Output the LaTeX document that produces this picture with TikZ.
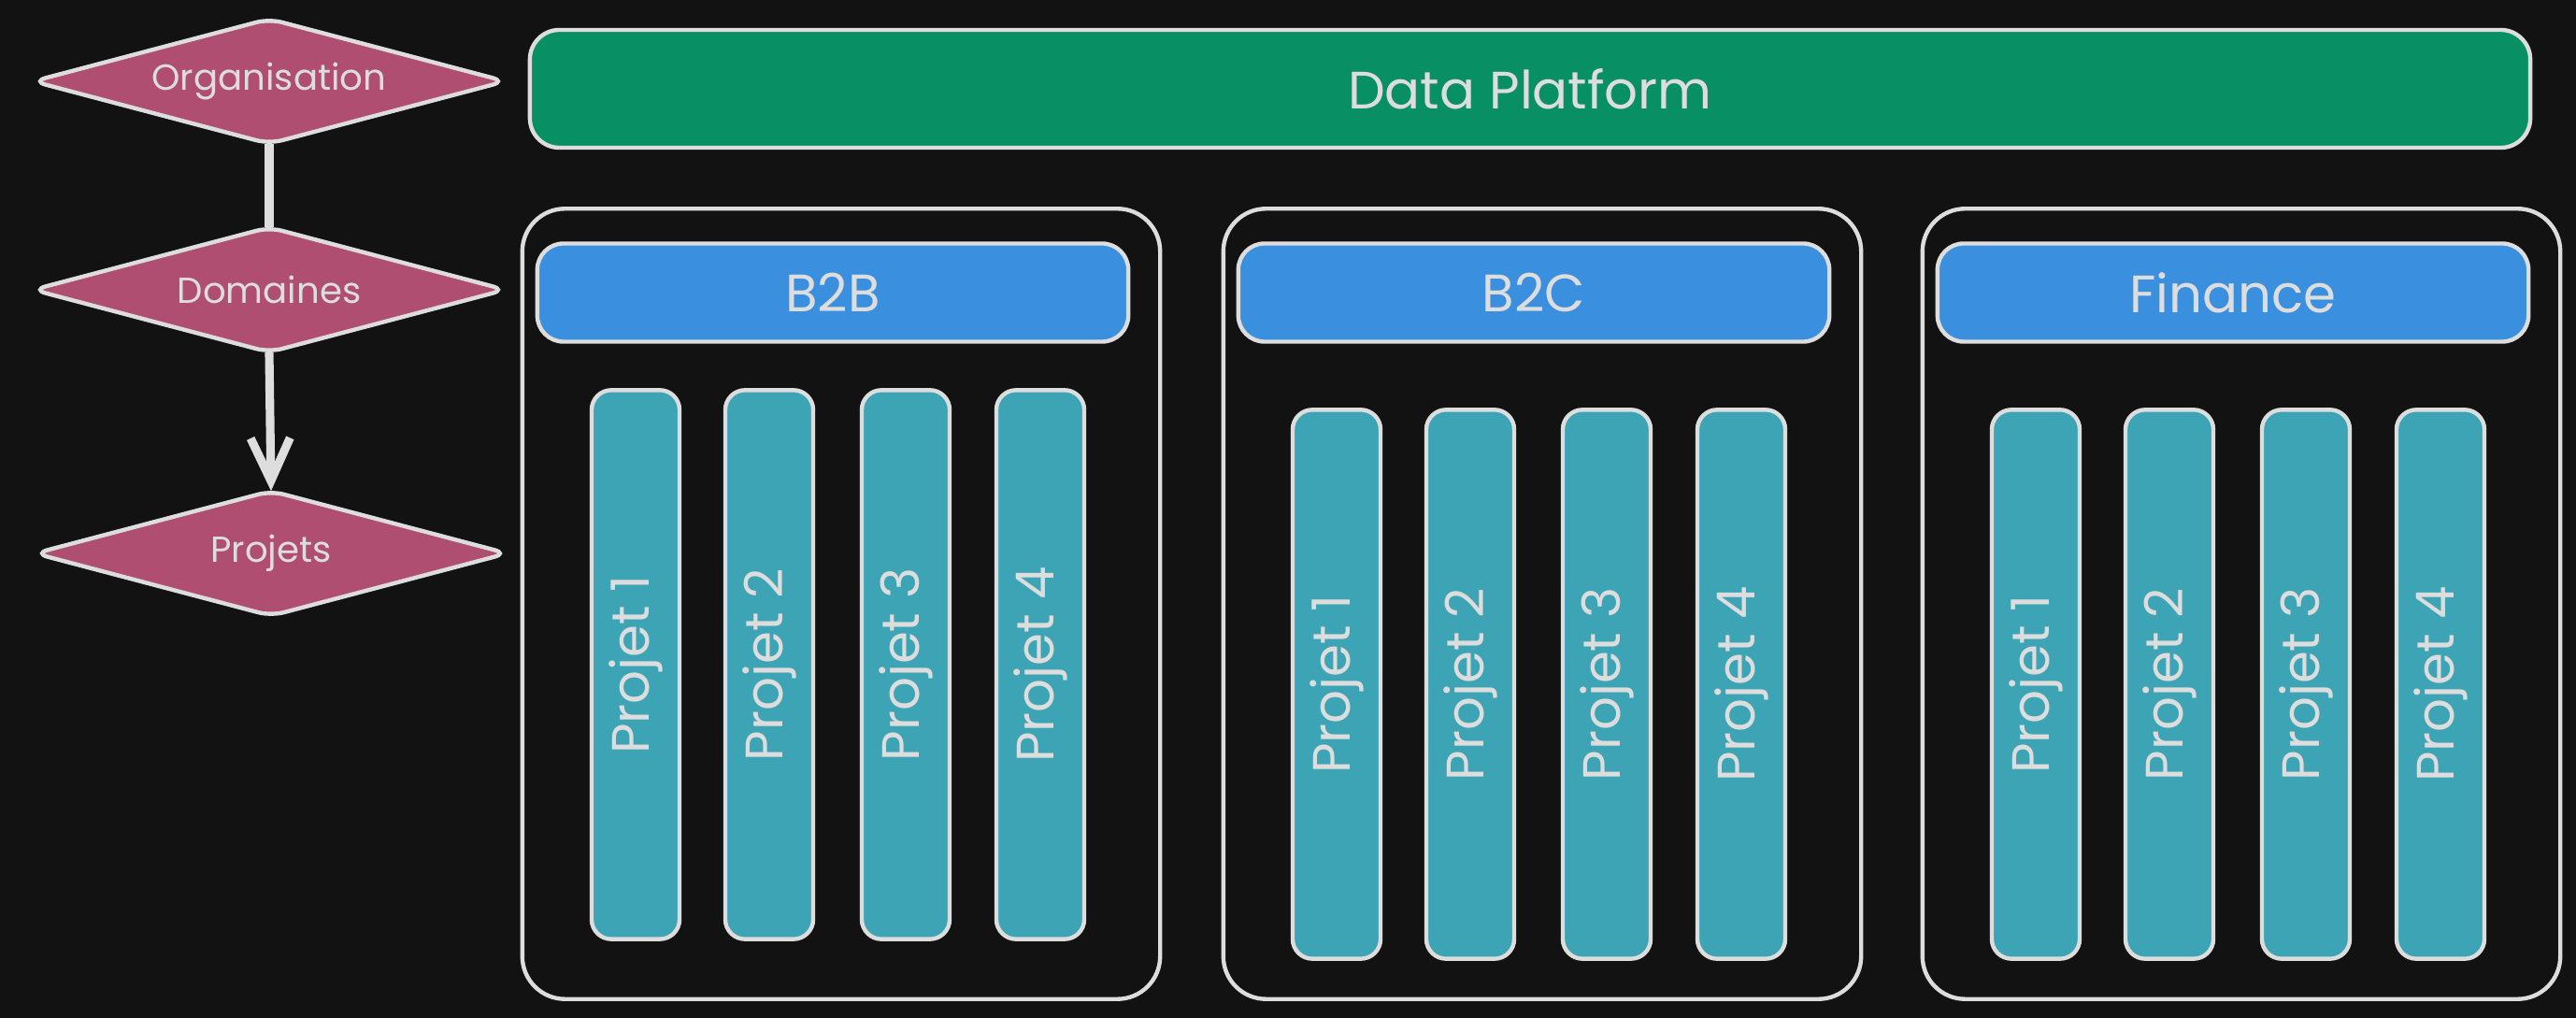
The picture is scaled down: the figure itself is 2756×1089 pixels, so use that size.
\documentclass[tikz,border=0pt]{standalone}
\usepackage{fontspec}
\setmainfont{Poppins}
\usetikzlibrary{arrows.meta,backgrounds}
\definecolor{bg}{HTML}{121212}
\definecolor{ink}{HTML}{DDDDDD}
\definecolor{plat}{HTML}{088F63}
\definecolor{dom}{HTML}{3A8FDE}
\definecolor{proj}{HTML}{3DA4B5}
\definecolor{lvl}{HTML}{AF4E70}
\begin{document}
\begin{tikzpicture}[x=0.01cm,y=-0.01cm,
  sk/.style={draw=ink, line width=1.25pt, text=ink},
  platbox/.style={sk, fill=plat, rounded corners=9pt, minimum width=21.39cm, minimum height=1.26cm, font=\fontsize{16}{18}\selectfont},
  domainbox/.style={draw=ink, line width=1.25pt, rounded corners=13pt, minimum width=6.82cm, minimum height=8.45cm},
  headbox/.style={sk, fill=dom, rounded corners=8pt, minimum width=6.32cm, minimum height=1.05cm, font=\fontsize{16}{18}\selectfont},
  projbox/.style={sk, fill=proj, rounded corners=6pt, rotate=90, minimum width=5.87cm, minimum height=0.94cm, font=\fontsize{16}{18}\selectfont},
  level/.style={text=ink, inner sep=0pt, minimum width=5.04cm, minimum height=1.32cm, font=\fontsize{11}{13}\selectfont},
  lvlshape/.style={draw=ink, line width=1.25pt, fill=lvl, rounded corners=4pt},
  conn/.style={draw=ink, line width=2.6pt}
]
\begin{pgfonlayer}{background}
  \fill[bg] (0,0) rectangle (2756,1089);
\end{pgfonlayer}
\useasboundingbox (0,0) rectangle (2756,1089);

% levels
\node[level] (org) at (288,87) {Organisation};
\node[level] (doms) at (288,310) {Domaines};
\node[level] (projs) at (290,592) {Projets};
\begin{pgfonlayer}{background}
  \foreach \n in {org,doms,projs}{
    \path[lvlshape] (\n.west) -- (\n.north) -- (\n.east) -- (\n.south) -- cycle;
  }
\end{pgfonlayer}
\draw[conn] (org.south) -- (doms.north);
\draw[conn, -{Straight Barb[length=13pt,width=12pt,line width=2.6pt]}] (doms.south) -- (projs.north);

% platform
\node[platbox] (plat) at (1637,95) {Data Platform};

% domains
\foreach \nm/\cx/\lab/\py in {b2b/900/B2B/711, b2c/1650/B2C/732, fin/2398/Finance/732}{
  \node[domainbox] (\nm) at (\cx,646) {};
  \node[headbox] (\nm h) at ({\cx-9},313) {\lab};
  \foreach \i/\dx in {1/-220,2/-77,3/69,4/213}{
    \node[projbox] (\nm p\i) at ({\cx+\dx},\py) {Projet \i};
  }
}
\end{tikzpicture}
\end{document}
